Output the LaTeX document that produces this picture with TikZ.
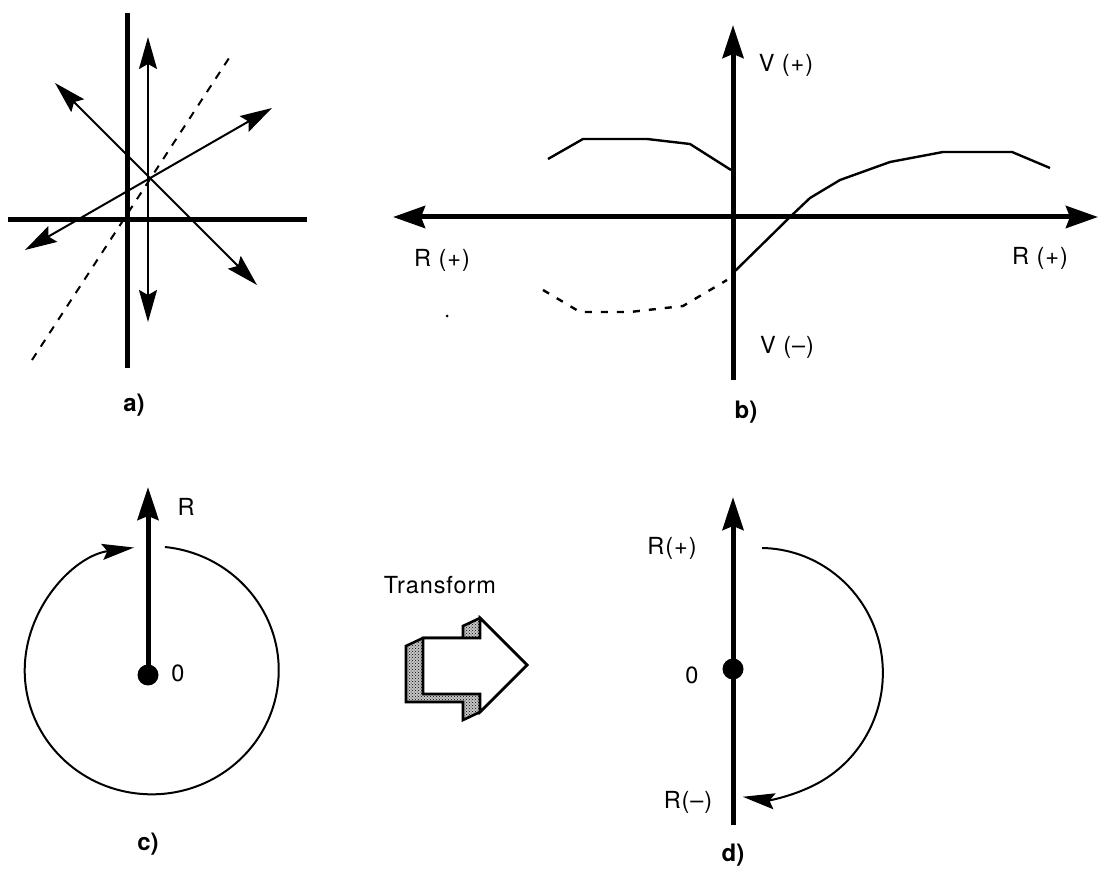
\documentclass[tikz,border=0pt]{standalone}
\usepackage{fontspec}
\setmainfont{TeX Gyre Heros}
\usetikzlibrary{arrows.meta,patterns}
\begin{document}
\begin{tikzpicture}[x=1pt,y=1pt,
  thickaxis/.style={line width=5pt},
  thinline/.style={line width=2pt},
  curveline/.style={line width=2.4pt},
  headthick/.style={-{Stealth[length=33pt,width=21pt,inset=4pt]}},
  dblthick/.style={arrows={Stealth[length=32pt,width=22pt,inset=4pt]-Stealth[length=32pt,width=22pt,inset=4pt]}},
  dblthin/.style={arrows={Stealth[length=32pt,width=18pt,inset=5pt]-Stealth[length=32pt,width=18pt,inset=5pt]}},
  headthin/.style={-{Stealth[length=32pt,width=16pt,inset=5pt]}},
  lbl/.style={inner sep=0pt, font=\fontsize{23.5}{28}\selectfont\addfontfeature{LetterSpace=4}},
  panellbl/.style={inner sep=0pt, font=\fontsize{24}{28}\selectfont\bfseries},
  dotnode/.style={circle, fill=black, inner sep=0pt, minimum size=21pt},
]
\useasboundingbox (0,0) rectangle (1099,878);

% ---------- panel a ----------
\coordinate (aVt) at (127,865); \coordinate (aVb) at (127,510);
\coordinate (aHl) at (8,658);   \coordinate (aHr) at (307,658);
\draw[thickaxis] (aVt) -- (aVb);
\draw[thickaxis] (aHl) -- (aHr);
\coordinate (a1t) at (148,841); \coordinate (a1b) at (148,556);
\draw[thinline,dblthin] (a1b) -- (a1t);
\coordinate (a2a) at (55,795); \coordinate (a2b) at (257,593);
\draw[thinline,dblthin] (a2a) -- (a2b);
\coordinate (a3a) at (25,628); \coordinate (a3b) at (272,770);
\draw[thinline,dblthin] (a3a) -- (a3b);
\coordinate (a4a) at (32,518); \coordinate (a4b) at (233,826);
\draw[thinline,dash pattern=on 8pt off 8pt] (a4a) -- (a4b);
\node[panellbl] (la) at (134,473) {a)};

% ---------- panel b ----------
\coordinate (bVb) at (733,498); \coordinate (bVt) at (733,853);
\coordinate (bHl) at (393,661); \coordinate (bHr) at (1098,661);
\draw[thickaxis,headthick] (bVb) -- (bVt);
\draw[thickaxis,dblthick] (bHl) -- (bHr);
\draw[curveline] (548,719) -- (583,739) -- (647,739) -- (690,734) -- (731,708);
\draw[curveline,dash pattern=on 7pt off 9pt] (543,588) -- (580,566) -- (630,566) -- (683,572) -- (727,598);
\draw[curveline] (733,605) -- (790,661) -- (810,680) -- (840,698) -- (890,716) -- (943,726) -- (1012,726) -- (1050,710);
\fill (447,562) circle (1.5pt);
\node[lbl] (vp) at (786,813) {V (+)};
\node[lbl] (vm) at (787,531) {V (–)};
\node[lbl] (rl) at (442,618) {R (+)};
\node[lbl] (rr) at (1040,620) {R (+)};
\node[panellbl] (lb) at (746,466) {b)};

% ---------- panel c ----------
\node[dotnode] (cO) at (148,203) {};
\coordinate (cT) at (148,391);
\draw[thickaxis,headthick] (cO.center) -- (cT);
\node[lbl] (c0) at (178,205) {0};
\node[lbl] (cR) at (186,371) {R};
\draw[thinline,headthin] (165,331) arc[start angle=84, end angle=-262, x radius=127, y radius=124];
\node[panellbl] (lc) at (148,34) {c)};

% ---------- transform arrow ----------
\node[lbl] (tr) at (440,293) {Transform};
\path[fill=gray!45] (406,232) -- (423,240) -- (463,240) -- (463,252) -- (480,260) -- (527,213) -- (480,166) -- (463,158) -- (463,176) -- (406,176) -- cycle;
\path[pattern=crosshatch dots] (406,232) -- (423,240) -- (463,240) -- (463,252) -- (480,260) -- (527,213) -- (480,166) -- (463,158) -- (463,176) -- (406,176) -- cycle;
\draw[line width=2.6pt,line join=miter] (406,232) -- (423,240) -- (463,240) -- (463,252) -- (480,260) -- (527,213) -- (480,166) -- (463,158) -- (463,176) -- (406,176) -- cycle;
\draw[line width=2.6pt,fill=white,line join=miter] (423,240) -- (480,240) -- (480,260) -- (527,213) -- (480,166) -- (480,184) -- (423,184) -- cycle;

% ---------- panel d ----------
\node[dotnode] (dO) at (733,209) {};
\coordinate (dB) at (733,53); \coordinate (dT) at (733,381);
\draw[thickaxis,headthick] (dB) -- (dT);
\node[lbl] (dRp) at (672,330) {R(+)};
\node[lbl] (d0) at (692,203) {0};
\node[lbl] (dRm) at (688,76) {R(–)};
\draw[thinline,headthin] (762,330) arc[start angle=89, end angle=-98, x radius=123, y radius=125];
\node[panellbl] (ld) at (733,23) {d)};
\end{tikzpicture}
\end{document}
